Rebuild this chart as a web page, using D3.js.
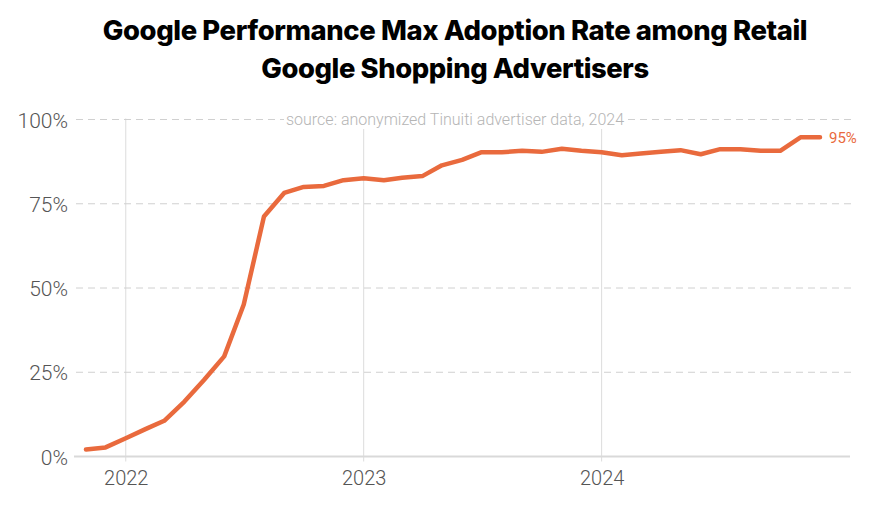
<!DOCTYPE html>
<html>
<head>
<meta charset="utf-8">
<script src="https://cdn.jsdelivr.net/npm/d3@7"></script>
<style>
  html, body { margin: 0; padding: 0; background: #fff; }
  svg { display: block; }
</style>
</head>
<body>
<svg id="chart" width="876" height="524"></svg>
<script>
// ---- Data ----
const titleLines = ["Google Performance Max Adoption Rate among Retail", "Google Shopping Advertisers"];
const sourceNote = "source: anonymized Tinuiti advertiser data, 2024";
const months = [
  "2021-11","2021-12",
  "2022-01","2022-02","2022-03","2022-04","2022-05","2022-06","2022-07","2022-08","2022-09","2022-10","2022-11","2022-12",
  "2023-01","2023-02","2023-03","2023-04","2023-05","2023-06","2023-07","2023-08","2023-09","2023-10","2023-11","2023-12",
  "2024-01","2024-02","2024-03","2024-04","2024-05","2024-06","2024-07","2024-08","2024-09","2024-10","2024-11","2024-12"
];
const adoption = [
  2.1, 2.7,
  5.4, 8.2, 10.6, 16.3, 22.7, 29.7, 45.1, 71.2, 78.2, 80.0, 80.3, 82.0,
  82.6, 82.0, 82.7, 83.2, 86.4, 88.0, 90.3, 90.3, 90.7, 90.4, 91.3, 90.7,
  90.3, 89.4, 89.9, 90.4, 90.9, 89.7, 91.2, 91.2, 90.7, 90.7, 94.7, 94.7
];
const yTicks = [0, 25, 50, 75, 100];
const xTickYears = ["2022", "2023", "2024"];
const endLabel = "95%";

// ---- Setup ----
const parseMonth = d3.timeParse("%Y-%m");
const parseYear = d3.timeParse("%Y");
const data = months.map((m, i) => ({ date: parseMonth(m), value: adoption[i] }));

const svg = d3.select("#chart");
const W = 876, H = 524;
const plot = { left: 76, right: 851, top: 119.5, bottom: 456.5 };
const orange = "#E96A3D";

const x = d3.scaleTime()
  .domain(d3.extent(data, d => d.date))
  .range([86, 820]);
const y = d3.scaleLinear().domain([0, 100]).range([plot.bottom, plot.top]);

// ---- Title ----
const titleTargets = [{ w: 702, cy: 30 }, { w: 386, cy: 68 }];
const title = svg.append("g");
titleLines.forEach((t, i) => {
  const txt = title.append("text")
    .attr("x", 455)
    .attr("y", titleTargets[i].cy)
    .attr("text-anchor", "middle")
    .attr("dominant-baseline", "central")
    .style("font-family", "Inter, 'Open Sans', sans-serif")
    .style("font-weight", 800)
    .style("font-size", "24px")
    .style("letter-spacing", "-0.4px")
    .attr("fill", "#000")
    .text(t);
  const len = txt.node().getComputedTextLength();
  if (len > 0) {
    const fs = 24 * titleTargets[i].w / len;
    txt.style("font-size", Math.min(Math.max(fs, 20), 28) + "px");
  }
});

// ---- Vertical year gridlines ----
const xg = svg.append("g");
xg.selectAll("line").data(xTickYears).join("line")
  .attr("x1", d => x(parseYear(d))).attr("x2", d => x(parseYear(d)))
  .attr("y1", plot.top - 1).attr("y2", plot.bottom + 5)
  .attr("stroke", "#dcdcdc").attr("stroke-width", 1);

// ---- Horizontal dashed gridlines ----
const yg = svg.append("g");
yg.selectAll("line").data(yTicks.filter(d => d > 0)).join("line")
  .attr("x1", plot.left).attr("x2", plot.right)
  .attr("y1", d => y(d)).attr("y2", d => y(d))
  .attr("stroke", "#d0d0d0").attr("stroke-width", 1)
  .attr("stroke-dasharray", "7,5");

// baseline
svg.append("line")
  .attr("x1", plot.left - 2).attr("x2", plot.right - 1)
  .attr("y1", y(0)).attr("y2", y(0))
  .attr("stroke", "#d9d9d9").attr("stroke-width", 2);

// ---- Y axis labels ----
const yAxis = d3.axisLeft(y).tickValues(yTicks).tickFormat(d => d + "%").tickSize(0).tickPadding(0);
const yAx = svg.append("g").attr("transform", "translate(68,0)").call(yAxis);
yAx.select(".domain").remove();
yAx.selectAll("text")
  .style("font-family", "Roboto, sans-serif")
  .style("font-weight", 300)
  .style("font-size", "21px")
  .attr("fill", "#555")
  .attr("dy", "0.36em");

// ---- X axis labels ----
const xAxis = d3.axisBottom(x)
  .tickValues(xTickYears.map(d => parseYear(d)))
  .tickFormat(d3.timeFormat("%Y")).tickSize(0).tickPadding(0);
const xAx = svg.append("g").attr("transform", "translate(0,478)").call(xAxis);
xAx.select(".domain").remove();
xAx.selectAll("text")
  .style("font-family", "Roboto, sans-serif")
  .style("font-weight", 300)
  .style("font-size", "20px")
  .attr("fill", "#555")
  .attr("dy", "0.36em");

// ---- Source note (with white backing) ----
const src = svg.append("g");
const srcText = src.append("text")
  .attr("x", 455).attr("y", y(100))
  .attr("text-anchor", "middle")
  .attr("dominant-baseline", "central")
  .style("font-family", "Roboto, sans-serif")
  .style("font-weight", 300)
  .style("font-size", "16px")
  .attr("fill", "#b5b5b5")
  .text(sourceNote);
const bb = srcText.node().getBBox();
src.insert("rect", "text")
  .attr("x", bb.x - 2).attr("y", bb.y).attr("width", bb.width + 4).attr("height", bb.height)
  .attr("fill", "#fff");

// ---- Line ----
const line = d3.line().x(d => x(d.date)).y(d => y(d.value));
svg.append("path")
  .datum(data)
  .attr("d", line)
  .attr("fill", "none")
  .attr("stroke", orange)
  .attr("stroke-width", 4.5)
  .attr("stroke-linejoin", "round")
  .attr("stroke-linecap", "round");

// ---- End label ----
const last = data[data.length - 1];
svg.append("text")
  .attr("x", x(last.date) + 9)
  .attr("y", y(last.value) + 1)
  .attr("dominant-baseline", "central")
  .style("font-family", "Roboto, sans-serif")
  .style("font-weight", 400)
  .style("font-size", "15px")
  .attr("fill", orange)
  .text(endLabel);
</script>
</body>
</html>
